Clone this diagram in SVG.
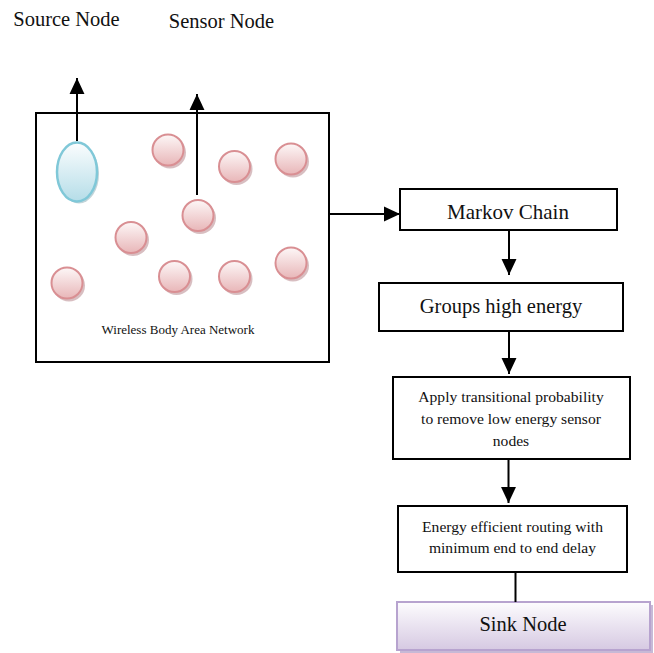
<svg xmlns="http://www.w3.org/2000/svg" width="654" height="653" viewBox="0 0 654 653">
<defs>
<linearGradient id="gPink" x1="0" y1="0" x2="0" y2="1"><stop offset="0" stop-color="#fdf7f7"/><stop offset="1" stop-color="#e8b6b8"/></linearGradient>
<linearGradient id="gBlue" x1="0" y1="0" x2="0" y2="1"><stop offset="0" stop-color="#fbfdfe"/><stop offset="1" stop-color="#b5dde8"/></linearGradient>
<linearGradient id="gPurple" x1="0" y1="0" x2="0" y2="1"><stop offset="0" stop-color="#fdfcfe"/><stop offset="1" stop-color="#d6c9e2"/></linearGradient>
<marker id="ah" markerUnits="userSpaceOnUse" markerWidth="16" markerHeight="16" viewBox="0 0 15 14" refX="15" refY="7" orient="auto"><path d="M0,0 L15,7 L0,14 Z" fill="#000"/></marker>
</defs>
<style>
.box{fill:#fff;stroke:#000;stroke-width:2}
.t{font-family:"Liberation Serif","Times New Roman",serif;fill:#111;text-anchor:middle}
.sn{fill:url(#gPink);stroke:#d98f93;stroke-width:2}
.sh{fill:#c7a3a6;opacity:0.7}
.ln{stroke:#000;stroke-width:2;fill:none}
</style>
<rect width="654" height="653" fill="#fff"/>

<text class="t" x="66.5" y="26" font-size="20.5">Source Node</text>
<text class="t" x="221.5" y="28" font-size="20.5">Sensor Node</text>

<g id="wban">
<rect class="box" x="36" y="113" width="293" height="249"/>
<text class="t" x="178" y="334" font-size="13">Wireless Body Area Network</text>
</g>

<g id="source">
<ellipse cx="79" cy="174" rx="20" ry="29.5" fill="#9ab7bf" opacity="0.6"/>
<ellipse cx="77" cy="172" rx="20" ry="29.5" fill="url(#gBlue)" stroke="#80c8d8" stroke-width="2.5"/>
</g>

<g id="sensors">
<circle class="sh" cx="170" cy="152.5" r="16"/><circle class="sn" cx="168" cy="150" r="15.5"/>
<circle class="sh" cx="236.5" cy="169" r="16"/><circle class="sn" cx="234.5" cy="166.5" r="15.5"/>
<circle class="sh" cx="293" cy="161.5" r="16"/><circle class="sn" cx="291" cy="159" r="15.5"/>
<circle class="sh" cx="200" cy="218" r="16"/><circle class="sn" cx="198" cy="215.5" r="15.5"/>
<circle class="sh" cx="133" cy="240" r="16"/><circle class="sn" cx="131" cy="237.5" r="15.5"/>
<circle class="sh" cx="69" cy="285.5" r="16"/><circle class="sn" cx="67" cy="283" r="15.5"/>
<circle class="sh" cx="176.5" cy="279" r="16"/><circle class="sn" cx="174.5" cy="276.5" r="15.5"/>
<circle class="sh" cx="236.5" cy="279" r="16"/><circle class="sn" cx="234.5" cy="276.5" r="15.5"/>
<circle class="sh" cx="293" cy="265.5" r="16"/><circle class="sn" cx="291" cy="263" r="15.5"/>
</g>

<g id="markov">
<rect class="box" x="400" y="189" width="217" height="41"/>
<text class="t" x="508" y="219" font-size="21">Markov Chain</text>
</g>

<g id="groups">
<rect class="box" x="379" y="283" width="244" height="48"/>
<text class="t" x="501" y="313" font-size="20.5">Groups high energy</text>
</g>

<g id="apply">
<rect class="box" x="393" y="377" width="237" height="82"/>
<text class="t" font-size="15.6"><tspan x="511" y="401.5">Apply transitional probability</tspan><tspan x="511" y="424">to remove low energy sensor</tspan><tspan x="511" y="446">nodes</tspan></text>
</g>

<g id="routing">
<rect class="box" x="398" y="506" width="229" height="66"/>
<text class="t" font-size="15.6"><tspan x="512.5" y="531.5">Energy efficient routing with</tspan><tspan x="512.5" y="553">minimum end to end delay</tspan></text>
</g>

<g id="sink">
<rect x="400" y="605" width="253" height="48" fill="#b9a8cc" opacity="0.8"/>
<rect x="397" y="602" width="253" height="48" fill="url(#gPurple)" stroke="#b7a3cf" stroke-width="2"/>
<text class="t" x="523" y="631" font-size="20.5">Sink Node</text>
</g>

<g id="connectors">
<line class="ln" x1="77" y1="141" x2="77" y2="78" marker-end="url(#ah)"/>
<line class="ln" x1="197" y1="195" x2="197" y2="94" marker-end="url(#ah)"/>
<line class="ln" x1="329" y1="214" x2="400" y2="214" marker-end="url(#ah)"/>
<line class="ln" x1="509" y1="230" x2="509" y2="275" marker-end="url(#ah)"/>
<line class="ln" x1="509" y1="331" x2="509" y2="374" marker-end="url(#ah)"/>
<line class="ln" x1="508.5" y1="459" x2="508.5" y2="503" marker-end="url(#ah)"/>
<line class="ln" x1="515.5" y1="572" x2="515.5" y2="602"/>
</g>
</svg>
